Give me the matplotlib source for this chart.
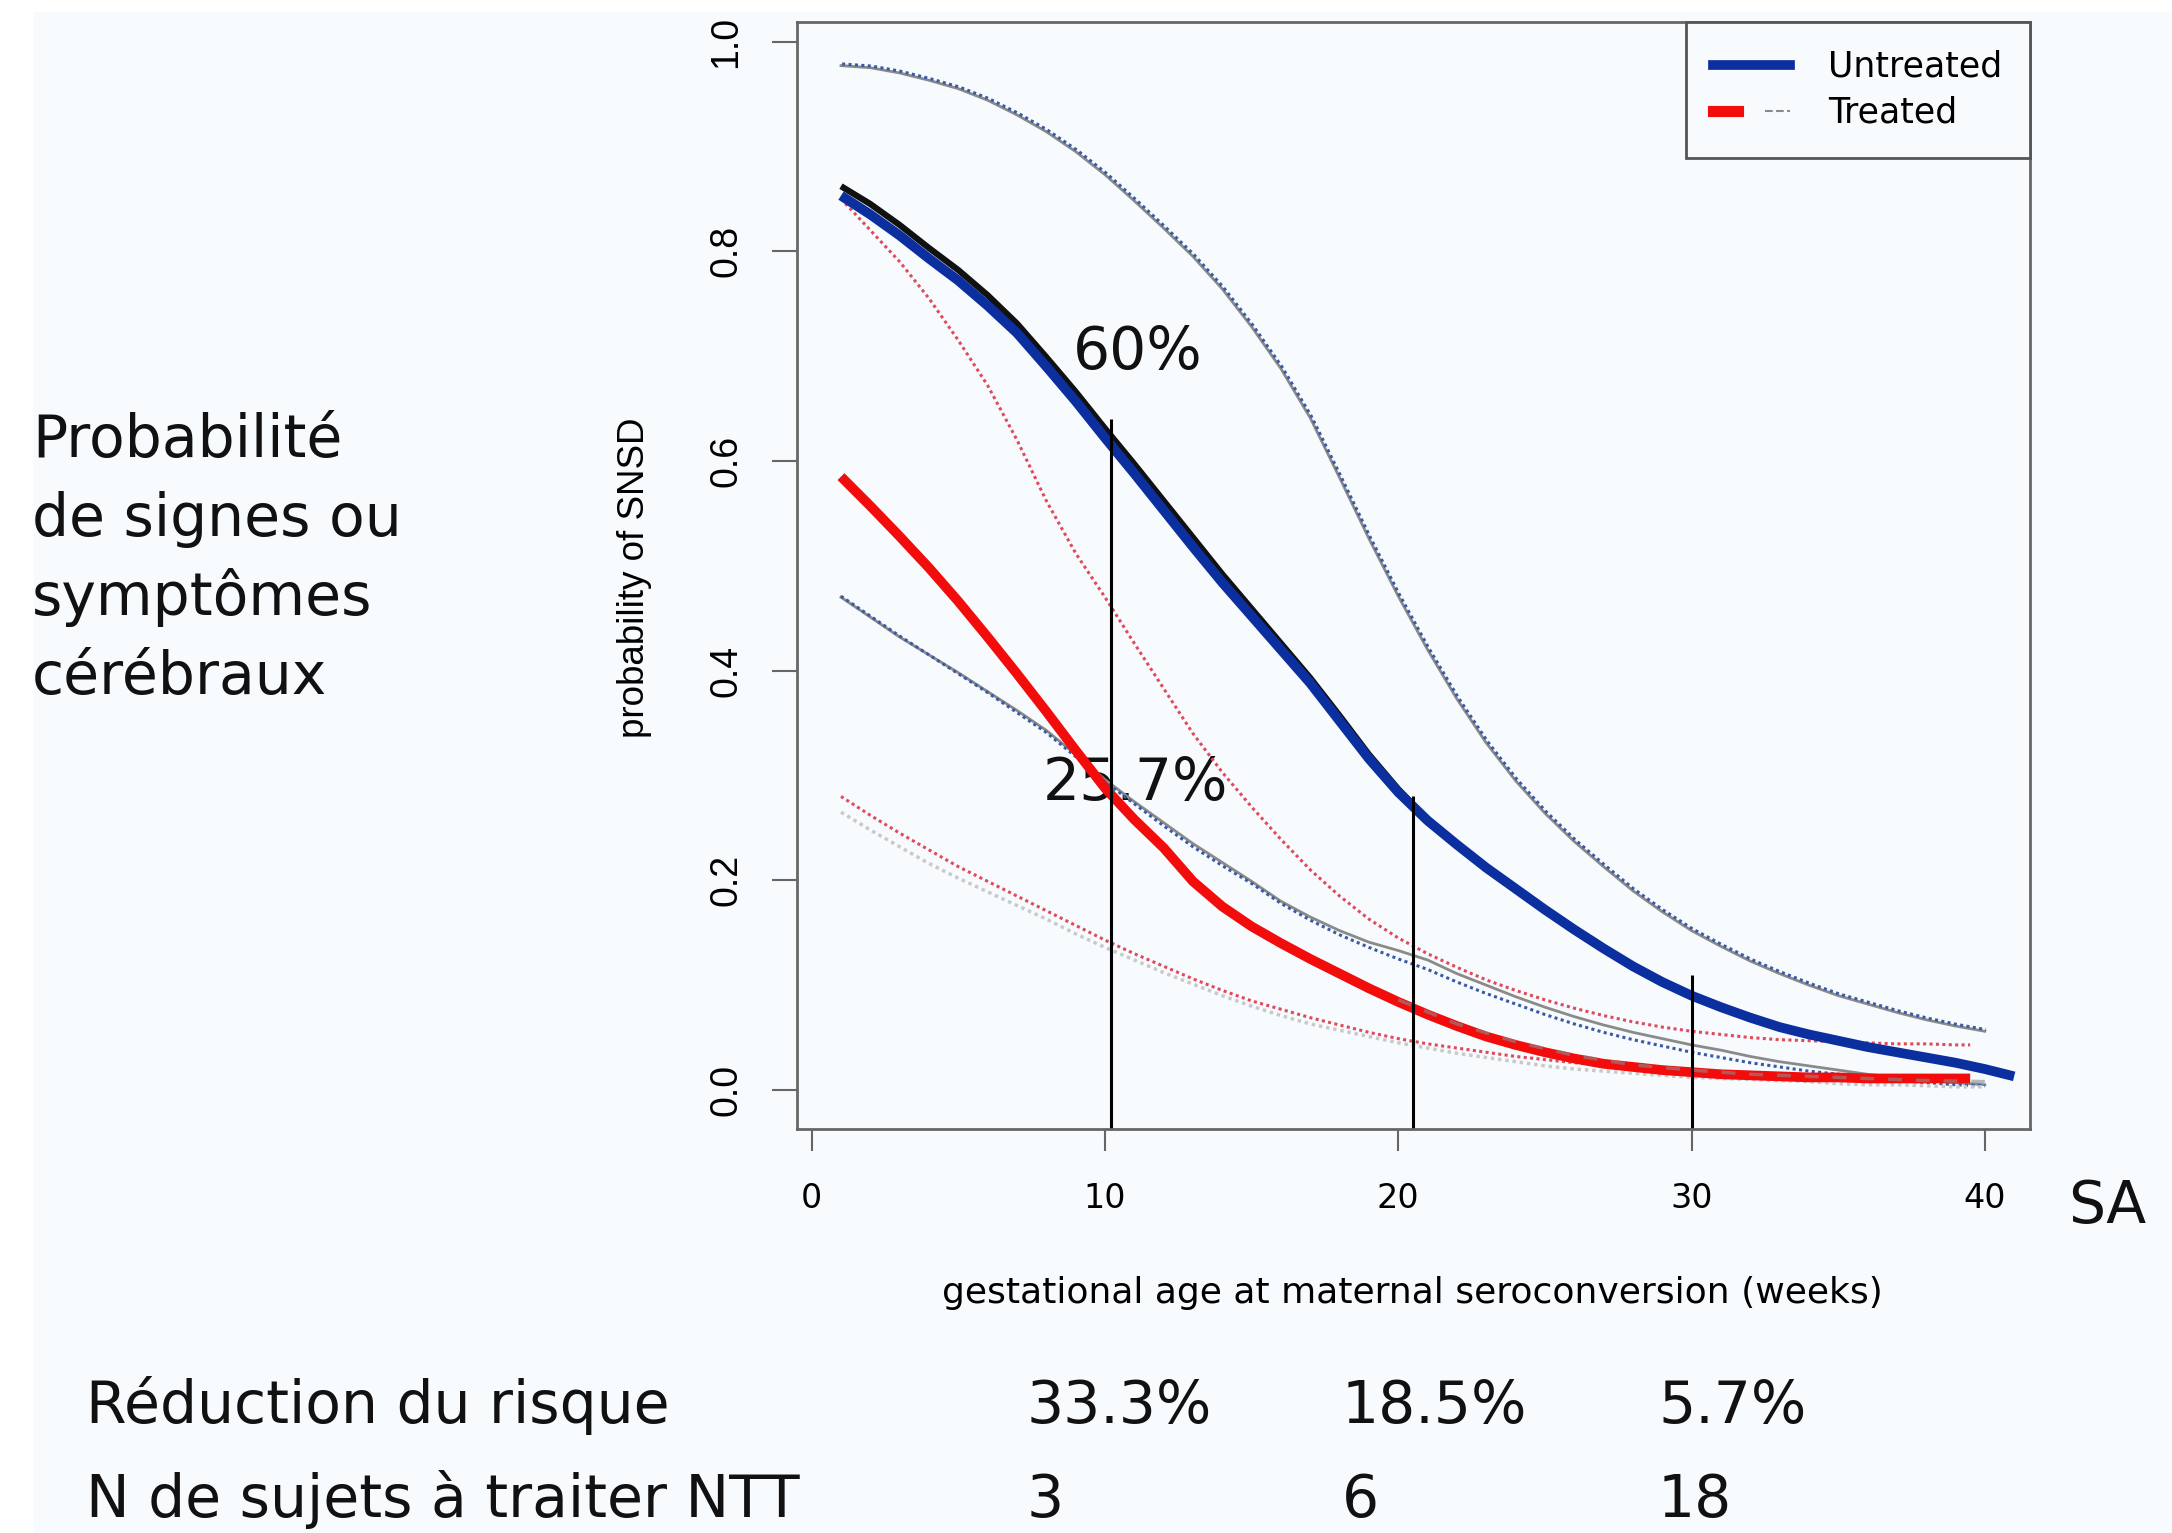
import matplotlib
matplotlib.use('Agg')
import matplotlib.pyplot as plt
from matplotlib.lines import Line2D
from matplotlib.patches import Rectangle
from matplotlib.legend_handler import HandlerTuple
from matplotlib.transforms import offset_copy

W, H = 2172, 1533

# ---- data (weeks, probability) ----
weeks = list(range(1, 41))                 # 1 .. 40
weeks_trt = list(range(1, 40)) + [39.5]    # treated curves stop a bit earlier

# untreated, upper band (grey solid with blue dots on it)
unt_up = [0.977, 0.975, 0.970, 0.963, 0.955, 0.944, 0.930, 0.914, 0.895, 0.873,
          0.848, 0.822, 0.795, 0.764, 0.728, 0.688, 0.641, 0.584, 0.526, 0.471,
          0.420, 0.373, 0.331, 0.295, 0.264, 0.237, 0.213, 0.190, 0.170, 0.152,
          0.137, 0.123, 0.111, 0.100, 0.090, 0.082, 0.074, 0.067, 0.061, 0.056]

# untreated, fitted curve (thick blue, black under it)
unt_x = weeks + [41]
unt_y = [0.853, 0.835, 0.815, 0.793, 0.772, 0.748, 0.722, 0.690, 0.657, 0.622,
         0.588, 0.553, 0.518, 0.484, 0.452, 0.420, 0.388, 0.352, 0.316, 0.284,
         0.257, 0.234, 0.212, 0.192, 0.172, 0.153, 0.135, 0.118, 0.103, 0.090,
         0.079, 0.069, 0.060, 0.053, 0.047, 0.041, 0.036, 0.031, 0.026, 0.020,
         0.013]
blk_x = list(range(1, 22))
blk_y = [0.862, 0.845, 0.825, 0.803, 0.782, 0.758, 0.731, 0.699, 0.666, 0.631,
         0.597, 0.562, 0.527, 0.492, 0.459, 0.426, 0.393, 0.357, 0.320, 0.287,
         0.258]

# untreated, lower band
unt_lo_gray = [0.470, 0.451, 0.432, 0.415, 0.398, 0.380, 0.362, 0.343, 0.320, 0.296,
               0.275, 0.255, 0.235, 0.217, 0.199, 0.180, 0.165, 0.152, 0.141, 0.133,
               0.124, 0.111, 0.100, 0.089, 0.079, 0.070, 0.062, 0.055, 0.049, 0.043,
               0.038, 0.032, 0.027, 0.023, 0.019, 0.015, 0.012, 0.009, 0.007, 0.005]
unt_lo_blue = [0.471, 0.452, 0.433, 0.415, 0.397, 0.379, 0.360, 0.341, 0.318, 0.294,
               0.273, 0.252, 0.232, 0.214, 0.197, 0.178, 0.162, 0.148, 0.136, 0.125,
               0.115, 0.103, 0.092, 0.082, 0.072, 0.063, 0.055, 0.048, 0.042, 0.036,
               0.031, 0.026, 0.022, 0.018, 0.015, 0.012, 0.009, 0.007, 0.005, 0.004]

# treated, fitted curve (thick red)
trt_y = [0.585, 0.557, 0.528, 0.498, 0.466, 0.432, 0.397, 0.361, 0.324, 0.288,
         0.258, 0.231, 0.199, 0.175, 0.156, 0.140, 0.125, 0.111, 0.097, 0.084,
         0.072, 0.061, 0.051, 0.043, 0.036, 0.030, 0.025, 0.022, 0.019, 0.017,
         0.015, 0.014, 0.013, 0.012, 0.012, 0.011, 0.011, 0.011, 0.011, 0.011]
trt_dash_x = [20, 22, 24, 26, 28, 30, 32, 34, 36, 38, 40]
trt_dash_y = [0.086, 0.063, 0.046, 0.033, 0.024, 0.019, 0.015, 0.013, 0.011, 0.009, 0.008]

# treated, bands (red dots)
trt_up = [0.850, 0.820, 0.790, 0.755, 0.715, 0.672, 0.620, 0.562, 0.512, 0.470,
          0.426, 0.383, 0.340, 0.303, 0.270, 0.239, 0.210, 0.185, 0.163, 0.145,
          0.130, 0.117, 0.105, 0.095, 0.086, 0.078, 0.071, 0.065, 0.060, 0.056,
          0.053, 0.050, 0.048, 0.047, 0.046, 0.045, 0.044, 0.044, 0.043, 0.043]
trt_lo = [0.280, 0.262, 0.245, 0.229, 0.213, 0.199, 0.185, 0.171, 0.157, 0.143,
          0.130, 0.118, 0.106, 0.095, 0.085, 0.077, 0.069, 0.062, 0.055, 0.049,
          0.044, 0.040, 0.036, 0.032, 0.029, 0.026, 0.024, 0.022, 0.020, 0.018,
          0.017, 0.016, 0.015, 0.014, 0.013, 0.013, 0.012, 0.012, 0.011, 0.011]
trt_lo_gray = [0.265, 0.248, 0.232, 0.216, 0.202, 0.189, 0.176, 0.163, 0.149, 0.136,
               0.124, 0.112, 0.101, 0.090, 0.080, 0.071, 0.063, 0.057, 0.051, 0.045,
               0.040, 0.035, 0.031, 0.027, 0.023, 0.020, 0.018, 0.016, 0.014, 0.012,
               0.011, 0.010, 0.009, 0.008, 0.006, 0.005, 0.005, 0.004, 0.003, 0.003]

marker_weeks = [10.2, 20.5, 30.0]
marker_tops = [0.64, 0.28, 0.11]

xticks = [0, 10, 20, 30, 40]
yticks = [0.0, 0.2, 0.4, 0.6, 0.8, 1.0]
ytick_labels = ['0.0', '0.2', '0.4', '0.6', '0.8', '1.0']

left_lines = ['Probabilité', 'de signes ou', 'symptômes', 'cérébraux']
reduction = ['33.3%', '18.5%', '5.7%']
ntt = ['3', '6', '18']

BLUE = '#0b2f9f'
RED = '#f20c0c'
GRAY = '#8a8a8a'
BLUE_DOT = '#3b5aa6'
RED_DOT = '#e04a5c'
TINT = '#f7fbfd'
BIG = dict(family='DejaVu Sans', fontsize=42, color='#111111')

fig = plt.figure(figsize=(W / 100, H / 100), dpi=100)
fig.patch.set_facecolor('white')
fig.add_artist(Rectangle((34 / W, 0), 1 - 34 / W, 1 - 12 / H,
                         transform=fig.transFigure, color=TINT, zorder=-10))

ax = fig.add_axes([797 / W, 1 - 1129 / H, (2030 - 797) / W, (1129 - 22) / H])
ax.set_facecolor(TINT)
ax.set_xlim(-0.5, 41.54)
ax.set_ylim(-0.0372, 1.0186)

dot = (0, (1, 1.1))
up_shift = offset_copy(ax.transData, fig=fig, x=0.8, y=1.2, units='points')
# untreated bands
ax.plot(weeks, unt_up, color=GRAY, lw=2)
ax.plot(weeks, unt_up, color=BLUE_DOT, lw=2.2, ls=dot, transform=up_shift)
ax.plot(weeks, unt_lo_gray, color=GRAY, lw=2)
ax.plot(weeks, unt_lo_blue, color=BLUE_DOT, lw=2.2, ls=dot)
# treated bands
ax.plot(weeks_trt, trt_up, color=RED_DOT, lw=2.2, ls=dot)
ax.plot(weeks, trt_lo_gray, color='#c9c9c9', lw=2.5, ls=dot)
ax.plot(weeks_trt, trt_lo, color=RED_DOT, lw=2.2, ls=dot)
# fitted curves
ax.plot(blk_x, blk_y, color='#111111', lw=4.5, solid_capstyle='butt',
        solid_joinstyle='round')
ax.plot(unt_x, unt_y, color=BLUE, lw=7, solid_capstyle='butt', solid_joinstyle='round')
ax.plot(weeks_trt, trt_y, color=RED, lw=7, solid_capstyle='butt',
        solid_joinstyle='round')
ax.plot(trt_dash_x, trt_dash_y, color=GRAY, lw=2.5, ls=(0, (4, 4)), alpha=0.6)

ax.vlines(marker_weeks, ax.get_ylim()[0], marker_tops, color='black', lw=2.2)

# percentages sit under the curves, as in the slide
ax.text(11.12, 0.688, '60%', ha='center', va='baseline', zorder=1.5, **BIG)
ax.text(11.05, 0.277, '25.7%', ha='center', va='baseline', zorder=1.5, **BIG)

for s in ax.spines.values():
    s.set_color('#666666')
    s.set_linewidth(2)

ax.set_xticks(xticks, [str(v) for v in xticks], family='DejaVu Sans', fontsize=24)
ax.set_yticks(yticks, ytick_labels, family='Liberation Sans', fontsize=27,
              rotation=90, va='center')
ax.tick_params(axis='x', length=16, width=1.5, color='#666666', pad=22)
ax.tick_params(axis='y', length=18, width=1.5, color='#666666', pad=20)

ax.set_ylabel('probability of SNSD', family='Liberation Sans', fontsize=26.5)
ax.yaxis.set_label_coords(-0.1176, 0.498)
ax.set_xlabel('gestational age at maternal seroconversion (weeks)',
              family='DejaVu Sans', fontsize=26)
ax.xaxis.set_label_coords(0.4988, -0.157)
ax.xaxis.label.set_va('baseline')

h_unt = Line2D([], [], color=BLUE, lw=7)
h_trt = (Line2D([], [], color=RED, lw=8), Line2D([], [], color=GRAY, lw=1.5, ls='--'))
leg = ax.legend([h_unt, h_trt], ['Untreated', 'Treated'], loc='upper right',
                bbox_to_anchor=(1, 1), borderaxespad=0, fancybox=False,
                edgecolor='#555555', facecolor=TINT, framealpha=1,
                prop=dict(family='DejaVu Sans', size=25), handlelength=2.2,
                handletextpad=1.1, borderpad=0.8, labelspacing=0.35,
                handler_map={tuple: HandlerTuple(ndivide=None)})
leg.get_frame().set_linewidth(2)

# slide texts around the plot
for i, line in enumerate(left_lines):
    fig.text(32 / W, 1 - (457 + 79 * i) / H, line, ha='left', va='baseline', **BIG)

fig.text(2068 / W, 1 - 1223 / H, 'SA', ha='left', va='baseline', **BIG)

fig.text(86 / W, 1 - 1423 / H, 'Réduction du risque', ha='left', va='baseline', **BIG)
fig.text(86 / W, 1 - 1517 / H, 'N de sujets à traiter NTT', ha='left', va='baseline', **BIG)
value_x = [1027, 1342, 1658]
for px, r, n in zip(value_x, reduction, ntt):
    fig.text(px / W, 1 - 1423 / H, r, ha='left', va='baseline', **BIG)
    fig.text(px / W, 1 - 1517 / H, n, ha='left', va='baseline', **BIG)

fig.savefig('out.png', dpi=100, facecolor=fig.get_facecolor())
